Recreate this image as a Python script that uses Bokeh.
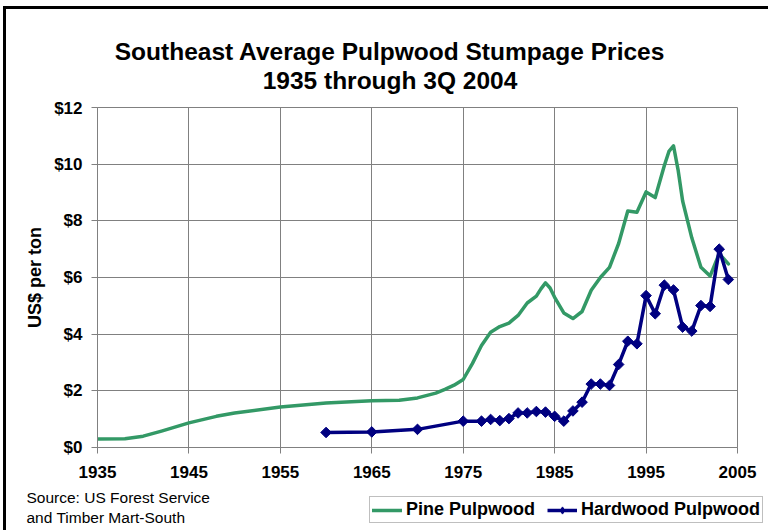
import numpy as np
from bokeh.plotting import figure
from bokeh.layouts import column
from bokeh.models import (Range1d, FixedTicker, NumeralTickFormatter, Label,
                          Legend, LegendItem, ColumnDataSource)
from bokeh.embed import file_html
from bokeh.resources import INLINE

# ---- data ----
pine_years = [1935, 1938, 1940, 1942, 1945, 1948, 1950, 1955, 1960, 1965,
              1968, 1970, 1972, 1973, 1974, 1975, 1976, 1977, 1978, 1979,
              1980, 1981, 1982, 1983, 1983.5, 1984, 1984.5, 1985, 1986, 1987,
              1988, 1989, 1990, 1991, 1992, 1993, 1994, 1995, 1996, 1997,
              1997.5, 1998, 1998.5, 1999, 2000, 2001, 2002, 2003, 2004]
pine_prices = [0.30, 0.31, 0.40, 0.58, 0.87, 1.10, 1.22, 1.43, 1.57, 1.65,
               1.67, 1.75, 1.92, 2.05, 2.20, 2.40, 2.96, 3.60, 4.07, 4.27,
               4.39, 4.66, 5.10, 5.34, 5.60, 5.81, 5.63, 5.30, 4.75, 4.55,
               4.80, 5.55, 6.00, 6.36, 7.20, 8.35, 8.30, 9.02, 8.82, 9.95,
               10.45, 10.65, 9.80, 8.70, 7.40, 6.36, 6.05, 6.84, 6.48]

hard_years = [1960, 1965, 1970, 1975, 1977, 1978, 1979, 1980, 1981, 1982,
              1983, 1984, 1985, 1986, 1987, 1988, 1989, 1990, 1991, 1992,
              1993, 1994, 1995, 1996, 1997, 1998, 1999, 2000, 2001, 2002,
              2003, 2004]
hard_prices = [0.53, 0.55, 0.64, 0.93, 0.93, 0.99, 0.95, 1.02, 1.22, 1.22,
               1.27, 1.25, 1.10, 0.93, 1.29, 1.60, 2.24, 2.24, 2.19, 2.93,
               3.75, 3.66, 5.36, 4.72, 5.73, 5.56, 4.25, 4.11, 5.01, 4.98,
               7.00, 5.93]

x_ticks = [1935, 1945, 1955, 1965, 1975, 1985, 1995, 2005]
y_ticks = [0, 2, 4, 6, 8, 10, 12]

title_lines = ["Southeast Average Pulpwood Stumpage Prices", "1935 through 3Q 2004"]
source_lines = ["Source: US Forest Service", "and Timber Mart-South"]
series_names = ["Pine Pulpwood", "Hardwood Pulpwood"]

PINE = "#339966"
HARD = "#000080"
GRID = "#808080"
FONT = "Liberation Sans"
W = 762


def blank(h):
    f = figure(width=W, height=h, x_axis_type=None, y_axis_type=None,
               x_range=Range1d(0, 1), y_range=Range1d(0, 1), title=None,
               output_backend="svg", toolbar_location=None,
               min_border=0, outline_line_color=None, frame_align=False,
               background_fill_color="white", border_fill_color="white")
    f.grid.visible = False
    return f


# ---- header with the two title lines ----
head = blank(89)
for txt, yy in zip(title_lines, [47, 18]):
    head.add_layout(Label(x=383.5, y=yy, x_units="screen", y_units="screen",
                          text=txt, text_align="center", text_baseline="alphabetic",
                          text_font=FONT, text_font_style="bold",
                          text_font_size="24.5px", text_color="black"))

# ---- main chart ----
p = figure(width=W, height=387, title=None,
           x_range=Range1d(1935, 2005), y_range=Range1d(0, 12),
           output_backend="svg", toolbar_location=None,
           min_border_left=91, min_border_right=31,
           min_border_top=9, min_border_bottom=38, frame_align=False,
           background_fill_color="white", border_fill_color="white")

p.outline_line_color = GRID
p.outline_line_width = 1

for ax in (p.xaxis[0], p.yaxis[0]):
    ax.axis_line_color = GRID
    ax.major_tick_line_color = GRID
    ax.minor_tick_line_color = None
    ax.major_tick_out = 6
    ax.major_tick_in = 0
    ax.major_label_text_font = FONT
    ax.major_label_text_font_style = "bold"
    ax.major_label_text_font_size = "17px"
    ax.major_label_text_color = "black"

p.xaxis.ticker = FixedTicker(ticks=x_ticks)
p.yaxis.ticker = FixedTicker(ticks=y_ticks)
p.yaxis.formatter = NumeralTickFormatter(format="$0")
p.xaxis.major_label_standoff = 12
p.yaxis.major_label_standoff = 9

p.yaxis.axis_label = "US$ per ton"
p.yaxis.axis_label_text_font = FONT
p.yaxis.axis_label_text_font_style = "bold"
p.yaxis.axis_label_text_font_size = "18px"
p.yaxis.axis_label_text_color = "black"
p.yaxis.axis_label_standoff = 6

p.xgrid.ticker = FixedTicker(ticks=x_ticks)
p.ygrid.ticker = FixedTicker(ticks=y_ticks)
p.grid.grid_line_color = GRID
p.grid.grid_line_width = 1

pine_src = ColumnDataSource(dict(x=pine_years, y=pine_prices))
hard_src = ColumnDataSource(dict(x=hard_years, y=hard_prices))

line_kw_pine = dict(line_color=PINE, line_width=3.5, line_join="round", line_cap="round")
line_kw_hard = dict(line_color=HARD, line_width=3.5, line_join="round")

p.line("x", "y", source=pine_src, **line_kw_pine)
p.line("x", "y", source=hard_src, **line_kw_hard)
p.scatter("x", "y", source=hard_src, marker="square", angle=np.pi / 4, size=7.5,
          fill_color=HARD, line_color=HARD)

# ---- footer with the source note and the legend ----
foot = blank(45)
for txt, yy in zip(source_lines, [33, 13]):
    foot.add_layout(Label(x=20, y=yy, x_units="screen", y_units="screen",
                          text=txt, text_align="left", text_baseline="alphabetic",
                          text_font=FONT, text_font_size="15.5px", text_color="black"))

# legend-only renderers (a single missing value, so nothing is drawn in the footer itself)
nodata = ColumnDataSource(dict(x=[np.nan], y=[np.nan]))
g_pine = foot.line("x", "y", source=nodata, **line_kw_pine)
g_hard_l = foot.line("x", "y", source=nodata, **line_kw_hard)
g_hard_m = foot.scatter("x", "y", source=nodata, marker="diamond", size=12,
                        fill_color=HARD, line_color=HARD)

legend = Legend(items=[LegendItem(label=series_names[0], renderers=[g_pine]),
                       LegendItem(label=series_names[1], renderers=[g_hard_l, g_hard_m])],
                location=(363, 7), orientation="horizontal",
                border_line_color=GRID, border_line_width=1,
                background_fill_color="white", background_fill_alpha=1,
                padding=2, margin=0, spacing=12, label_standoff=4,
                glyph_width=30, glyph_height=18, label_height=18,
                label_text_font=FONT, label_text_font_style="bold",
                label_text_font_size="18px", label_text_color="black")
foot.add_layout(legend, "center")

page = column(head, p, foot, spacing=0,
              styles={"border-left": "3px solid black",
                      "border-top": "3px solid black",
                      "margin-left": "3px", "margin-top": "6px"})

open("out.html", "w").write(file_html(page, INLINE))
